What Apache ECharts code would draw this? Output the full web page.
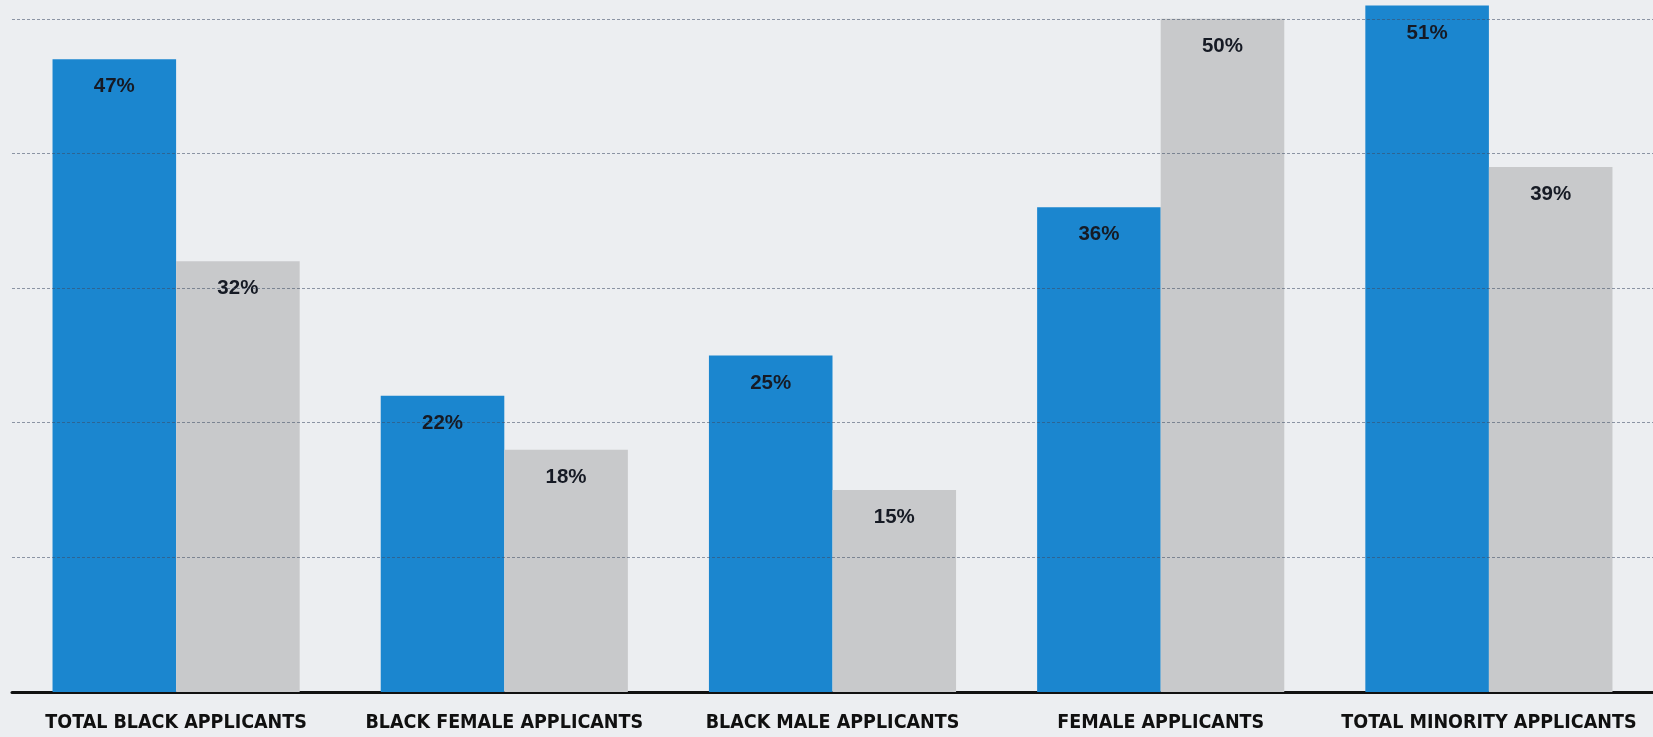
<!DOCTYPE html>
<html>
<head>
<meta charset="utf-8">
<script src="https://cdn.jsdelivr.net/npm/echarts@6/dist/echarts.min.js"></script>
<style>
  html, body { margin: 0; padding: 0; background: #eceef1; }
  #chart { width: 1653px; height: 737px; }
</style>
</head>
<body>
<div id="chart"></div>
<script>
// Applicant groups along the x axis
const categories = [
  'TOTAL BLACK APPLICANTS',
  'BLACK FEMALE APPLICANTS',
  'BLACK MALE APPLICANTS',
  'FEMALE APPLICANTS',
  'TOTAL MINORITY APPLICANTS'
];
// Percent values for the two bars in each group
const blueValues = [47, 22, 25, 36, 51];
const grayValues = [32, 18, 15, 50, 39];
// Horizontal reference lines (percent)
const gridValues = [10, 20, 30, 40, 50];

const chart = echarts.init(document.getElementById('chart'), null, { renderer: 'canvas' });

const labelStyle = {
  show: true,
  position: 'insideTop',
  distance: 17,
  formatter: '{c}%',
  color: '#161a24',
  fontFamily: 'Liberation Sans',
  fontWeight: 'bold',
  fontSize: 20.5
};

chart.setOption({
  backgroundColor: '#eceef1',
  animation: false,
  grid: { left: 12, right: -7, top: 0, bottom: 45, containLabel: false },
  xAxis: {
    type: 'category',
    data: categories,
    axisTick: { show: false },
    axisLine: { show: true, lineStyle: { color: '#111111', width: 3 } },
    axisLabel: {
      interval: 0,
      margin: 21,
      color: '#101010',
      fontFamily: '"DejaVu Sans Condensed", Roboto, sans-serif',
      fontWeight: 'bold',
      fontSize: 19.5
    }
  },
  yAxis: {
    type: 'value',
    min: 0,
    max: 51.4,
    axisLabel: { show: false },
    axisLine: { show: false },
    axisTick: { show: false },
    splitLine: { show: false }
  },
  series: [
    {
      name: 'blue',
      type: 'bar',
      data: blueValues,
      barGap: '0%',
      barCategoryGap: '24.7%',
      itemStyle: { color: '#1b86cf' },
      label: labelStyle
    },
    {
      name: 'gray',
      type: 'bar',
      data: grayValues,
      itemStyle: { color: '#c8c9cb' },
      label: labelStyle,
      // dashed guide lines drawn over the bars
      markLine: {
        silent: true,
        symbol: ['none', 'none'],
        label: { show: false },
        lineStyle: { color: 'rgba(60,75,100,0.55)', width: 1, type: [3, 2] },
        data: gridValues.map(v => ({ yAxis: v }))
      }
    }
  ]
});
</script>
</body>
</html>
